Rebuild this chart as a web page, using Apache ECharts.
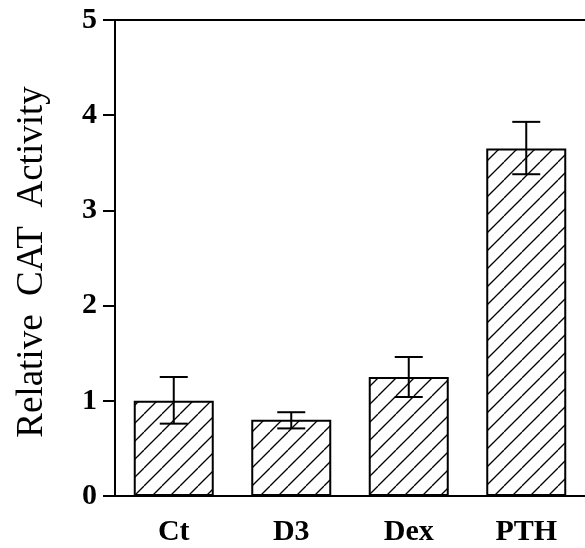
<!DOCTYPE html>
<html>
<head>
<meta charset="utf-8">
<script src="https://cdn.jsdelivr.net/npm/echarts@6/dist/echarts.min.js"></script>
<style>
  html, body { margin: 0; padding: 0; background: #fff; }
  #chart { width: 585px; height: 548px; }
</style>
</head>
<body>
<div id="chart"></div>
<script>
const categories = ['Ct', 'D3', 'Dex', 'PTH'];
const activity = [1.0, 0.8, 1.25, 3.65];
const errLow = [0.76, 0.71, 1.04, 3.38];
const errHigh = [1.25, 0.88, 1.46, 3.93];
const yTicks = [0, 1, 2, 3, 4, 5];

const FONT = '"Liberation Serif", "DejaVu Serif", serif';

// diagonal hatching tile
function hatch() {
  const s = 18;
  const c = document.createElement('canvas');
  c.width = s; c.height = s;
  const g = c.getContext('2d');
  g.fillStyle = '#fff';
  g.fillRect(0, 0, s, s);
  g.strokeStyle = '#000';
  g.lineWidth = 1.3;
  for (let k = -1; k <= 1; k++) {
    g.beginPath();
    g.moveTo(k * s, s);
    g.lineTo(k * s + s, 0);
    g.stroke();
  }
  return c;
}

const myChart = echarts.init(document.getElementById('chart'));

myChart.setOption({
  animation: false,
  backgroundColor: '#fff',
  grid: { left: 115, top: 20, bottom: 52, width: 472 },
  xAxis: [{
    type: 'category',
    data: categories,
    axisLine: { lineStyle: { color: '#000', width: 2 } },
    axisTick: { alignWithLabel: true, length: 11, lineStyle: { color: '#000', width: 2 } },
    axisLabel: { color: '#000', fontFamily: FONT, fontWeight: 'bold', fontSize: 30, margin: 21 }
  }, {
    type: 'category',
    position: 'top',
    data: categories,
    axisLine: { lineStyle: { color: '#000', width: 2 } },
    axisTick: { show: false },
    axisLabel: { show: false }
  }],
  yAxis: {
    type: 'value',
    min: yTicks[0],
    max: yTicks[yTicks.length - 1],
    interval: 1,
    name: 'Relative  CAT  Activity',
    nameLocation: 'middle',
    nameGap: 64,
    nameTextStyle: { color: '#000', fontFamily: FONT, fontSize: 37, padding: [0, 8, 0, 0] },
    axisLine: { show: true, lineStyle: { color: '#000', width: 2 } },
    axisTick: { show: true, length: 12, lineStyle: { color: '#000', width: 2 } },
    axisLabel: { color: '#000', fontFamily: FONT, fontWeight: 'bold', fontSize: 30, margin: 18 },
    splitLine: { show: false }
  },
  series: [{
    type: 'bar',
    data: activity,
    barWidth: 80,
    itemStyle: {
      color: { image: hatch(), repeat: 'repeat' },
      borderColor: '#000',
      borderWidth: 2
    }
  }, {
    type: 'custom',
    data: categories.map((c, i) => [i, errLow[i], errHigh[i]]),
    renderItem: function (params, api) {
      const lo = api.coord([api.value(0), api.value(1)]);
      const hi = api.coord([api.value(0), api.value(2)]);
      const w = 14;
      const st = { stroke: '#000', lineWidth: 2 };
      return {
        type: 'group',
        children: [
          { type: 'line', shape: { x1: hi[0], y1: hi[1], x2: lo[0], y2: lo[1] }, style: st },
          { type: 'line', shape: { x1: hi[0] - w, y1: hi[1], x2: hi[0] + w, y2: hi[1] }, style: st },
          { type: 'line', shape: { x1: lo[0] - w, y1: lo[1], x2: lo[0] + w, y2: lo[1] }, style: st }
        ]
      };
    },
    z: 5
  }]
});
</script>
</body>
</html>
